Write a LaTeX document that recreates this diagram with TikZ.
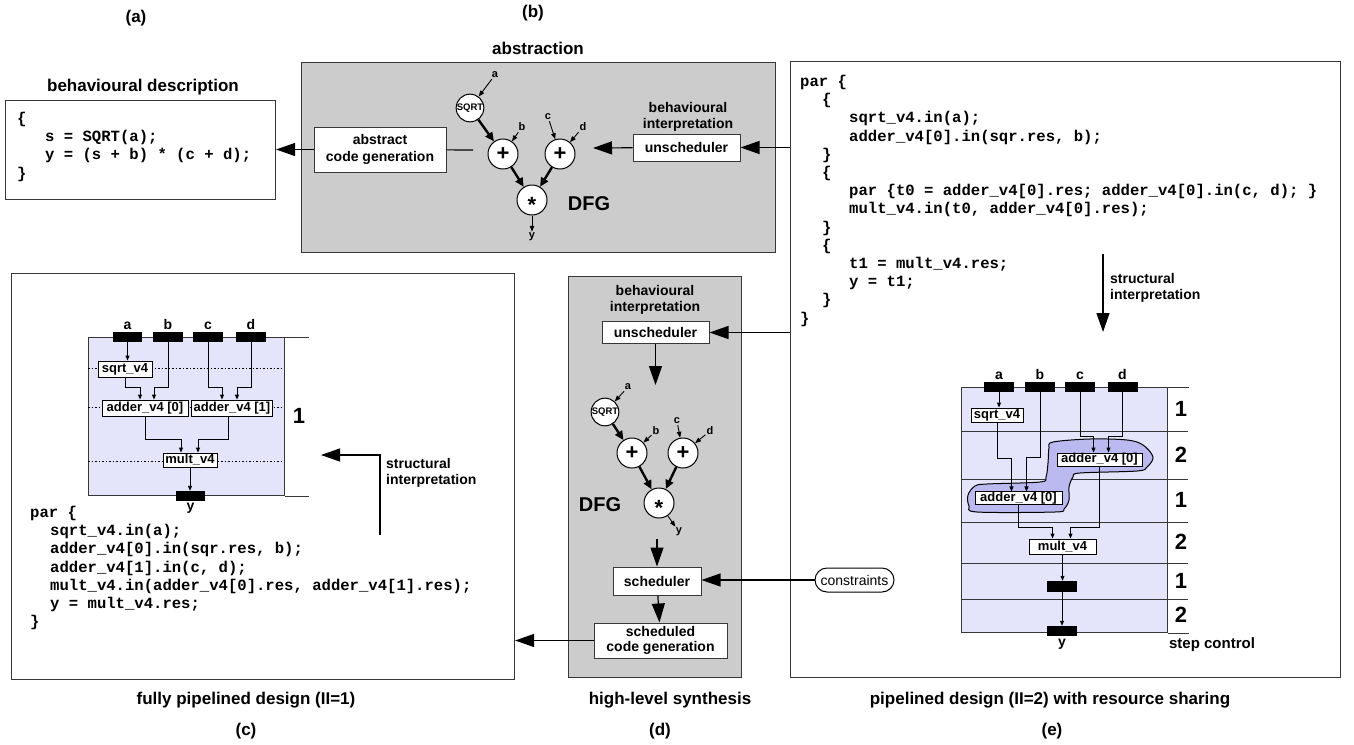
\documentclass[tikz,border=0pt]{standalone}
\usepackage{fontspec}
\setmainfont{Liberation Sans}
\setmonofont{Liberation Mono}
\usetikzlibrary{arrows.meta, positioning, shapes.misc}

\definecolor{panelgray}{RGB}{204,204,204}
\definecolor{datapath}{RGB}{228,228,250}
\definecolor{shared}{RGB}{186,186,240}
\definecolor{rim}{RGB}{55,55,55}

\tikzset{
  heading/.style={font=\bfseries\fontsize{17}{20}\selectfont, inner sep=0pt},
  panel/.style={draw=rim, line width=1.1pt, anchor=north west, inner sep=0pt},
  block/.style={draw=rim, fill=white, line width=1pt, align=center, inner sep=0pt,
    font=\bfseries\fontsize{14}{16.5}\selectfont},
  note/.style={align=left, inner sep=0pt, font=\bfseries\fontsize{14}{16}\selectfont},
  code/.style={align=left, anchor=north west, inner sep=0pt,
    font=\ttfamily\bfseries\fontsize{15.6}{18.2}\selectfont},
  op/.style={circle, draw=black, fill=white, line width=1pt, inner sep=0pt,
    minimum size=30, font=\bfseries\fontsize{22}{22}\selectfont},
  sqrtop/.style={op, minimum size=27, font=\bfseries\fontsize{9.5}{10}\selectfont},
  var/.style={inner sep=1pt, font=\bfseries\fontsize{11}{12}\selectfont},
  dfglbl/.style={inner sep=0pt, font=\bfseries\fontsize{20}{22}\selectfont},
  unit/.style={draw=black, fill=white, line width=0.9pt, inner sep=0pt,
    font=\bfseries\fontsize{13}{14}\selectfont},
  port/.style={fill=black, inner sep=0pt, minimum width=30, minimum height=10},
  portlbl/.style={inner sep=0pt, font=\bfseries\fontsize{14}{15}\selectfont},
  stepnum/.style={inner sep=0pt, font=\bfseries\fontsize{22}{22}\selectfont},
  flow/.style={line width=1.2pt, -{Triangle[length=19pt,width=13pt]}},
  feed/.style={line width=0.9pt, -{Triangle[length=6pt,width=4.5pt]}},
  dep/.style={line width=2.4pt, -{Triangle[length=9pt,width=8pt]}},
  wire/.style={line width=0.9pt, -{Triangle[length=5pt,width=4pt]}},
  rowline/.style={draw=rim, line width=1pt},
}

\begin{document}
\begin{tikzpicture}[x=1pt, y=-1pt]

  \path[use as bounding box, fill=white] (0,0) rectangle (1354,744);

  % Panels
  \node[panel, fill=white, minimum width=270, minimum height=99] (desc) at (5,100) {};
  \node[panel, fill=panelgray, minimum width=474, minimum height=190] (absbox) at (301,62) {};
  \node[panel, fill=white, minimum width=550, minimum height=616] (pipebox) at (790,61) {};
  \node[panel, fill=white, minimum width=503, minimum height=406] (fullbox) at (11,273) {};
  \node[panel, fill=panelgray, minimum width=173, minimum height=401] (hlsbox) at (568,276) {};

  % (a) behavioural description
  \node[heading] (la) at (136,18) {(a)};
  \node[heading] (ta) at (143,87) {behavioural description};
  \node[code] (descsrc) at (17,112) {\{\\
    \hspace*{28pt}s = SQRT(a);\\
    \hspace*{28pt}y = (s + b) * (c + d);\\
    \}};

  % (b) abstraction
  \node[heading] (lb) at (533,13) {(b)};
  \node[heading] (tb) at (538,48) {abstraction};
  \node[block, minimum width=132, minimum height=45] (acg) at (380,149.5) {abstract\\code generation};
  \node[block, minimum width=107, minimum height=27] (unschb) at (686.5,147.5) {unscheduler};
  \node[note, align=center] (bib) at (688,116.5) {behavioural\\interpretation};
  \coordinate (acgend) at (473,150);
  \coordinate (unschbend) at (593,148);

  \node[sqrtop] (sqrtb) at (470,108) {SQRT};
  \node[op] (addb1) at (503,154) {+};
  \node[op] (addb2) at (560,154) {+};
  \node[op] (mulb) at (532,200) {\raisebox{-0.58em}[0pt][0pt]{*}};
  \node[var] (vab) at (495,75) {a};
  \node[var] (vbb) at (522,127) {b};
  \node[var] (vcb) at (548,117) {c};
  \node[var] (vdb) at (583,127) {d};
  \node[var] (vyb) at (532,237) {y};
  \node[dfglbl] (dfgb) at (589,204) {DFG};

  \draw[feed] (vab) -- (sqrtb);
  \draw[feed] (vbb) -- (addb1);
  \draw[feed] (vcb) -- (addb2);
  \draw[feed] (vdb) -- (addb2);
  \draw[dep] (sqrtb) -- (addb1);
  \draw[dep] (addb1) -- (mulb);
  \draw[dep] (addb2) -- (mulb);
  \draw[feed] (mulb) -- (vyb);

  \draw[flow] (acg) -- (acg -| desc.east);
  \draw[line width=1.2pt] (acg) -- (acgend);
  \draw[flow] (unschb) -- (unschbend);
  \draw[flow] (unschb -| pipebox.west) -- (unschb);

  % (c) fully pipelined design
  \node[draw=rim, fill=datapath, line width=1pt, anchor=north west, inner sep=0pt,
    minimum width=196, minimum height=158] (dpc) at (88,337) {};
  \draw[rowline] (dpc.north east) -- ++(24,0);
  \draw[rowline] (dpc.south east) -- ++(24,0);
  \foreach \y in {368,407,461}
    \draw[line width=0.9pt, dash pattern=on 1.5pt off 2pt] (88,\y) -- (284,\y);

  \node[unit, minimum width=54, minimum height=16] (sqrtc) at (125,369) {sqrt\_v4};
  \node[unit, minimum width=86, minimum height=16] (add0c) at (145,408) {adder\_v4 [0]};
  \node[unit, minimum width=81, minimum height=16] (add1c) at (232,408) {adder\_v4 [1]};
  \node[unit, minimum width=54, minimum height=14] (multc) at (190,460) {mult\_v4};

  \node[port, minimum width=29] (pac) at (127.5,337) {};
  \node[port] (pbc) at (168,337) {};
  \node[port] (pcc) at (208,337) {};
  \node[port] (pdc) at (251,337) {};
  \node[port, minimum width=29] (pyc) at (190.5,496) {};
  \node[portlbl, above=2pt of pac] (lac) {a};
  \node[portlbl, above=2pt of pbc] (lbc) {b};
  \node[portlbl, above=2pt of pcc] (lcc) {c};
  \node[portlbl, above=2pt of pdc] (ldc) {d};
  \node[portlbl, below=2pt of pyc] (lyc) {y};
  \node[stepnum] (stc) at (299,416) {1};

  \draw[wire] (pac) -- (pac |- sqrtc.north);
  \draw[wire] (sqrtc.south) -- ++(0,10) -| ([xshift=-5pt]add0c.north);
  \draw[wire] (pbc.south) -- ++(0,45) -| ([xshift=9pt]add0c.north);
  \draw[wire] (pcc.south) -- ++(0,45) -| ([xshift=-10pt]add1c.north);
  \draw[wire] (pdc.south) -- ++(0,45) -| ([xshift=5pt]add1c.north);
  \draw[wire] (add0c.south) -- ++(0,23) -| ([xshift=-9pt]multc.north);
  \draw[wire] ([xshift=-4pt]add1c.south) -- ++(0,23) -| ([xshift=8pt]multc.north);
  \draw[wire] (multc.south) -- (multc.south |- pyc.north);

  \node[code] (fullsrc) at (30,506) {par \{\\
    \hspace*{20pt}sqrt\_v4.in(a);\\
    \hspace*{20pt}adder\_v4[0].in(sqr.res, b);\\
    \hspace*{20pt}adder\_v4[1].in(c, d);\\
    \hspace*{20pt}mult\_v4.in(adder\_v4[0].res, adder\_v4[1].res);\\
    \hspace*{20pt}y = mult\_v4.res;\\
    \}};

  \coordinate (sfoot) at (380,535);
  \coordinate (stip) at (321,455);
  \draw[flow] (sfoot) |- (stip);
  \node[note, anchor=north west] (snote) at (386,458) {structural\\interpretation};

  % (d) high-level synthesis
  \node[note, align=center] (bid) at (655,299.5) {behavioural\\interpretation};
  \node[block, minimum width=107, minimum height=22] (unschd) at (655.5,332.5) {unscheduler};
  \coordinate (dfgtop) at (655.5,385);
  \coordinate (dfgbot) at (657,539);
  \node[block, minimum width=88, minimum height=28] (sched) at (657,581) {scheduler};
  \node[block, minimum width=133, minimum height=35, font=\bfseries\fontsize{14}{15.5}\selectfont]
    (scg) at (660.5,640.5) {scheduled\\code generation};

  \node[sqrtop] (sqrtd) at (605,412) {SQRT};
  \node[op] (addd1) at (632,453) {+};
  \node[op] (addd2) at (683,453) {+};
  \node[op] (muld) at (659,503) {\raisebox{-0.58em}[0pt][0pt]{*}};
  \node[var] (vad) at (628,387) {a};
  \node[var] (vbd) at (656,431) {b};
  \node[var] (vcd) at (677,421) {c};
  \node[var] (vdd) at (710,431) {d};
  \node[var] (vyd) at (679,532) {y};
  \node[dfglbl] (dfgd) at (600,505) {DFG};

  \draw[feed] (vad) -- (sqrtd);
  \draw[feed] (vbd) -- (addd1);
  \draw[feed] (vcd) -- (addd2);
  \draw[feed] (vdd) -- (addd2);
  \draw[dep] (sqrtd) -- (addd1);
  \draw[dep] (addd1) -- (muld);
  \draw[dep] (addd2) -- (muld);
  \draw[feed] (muld) -- (vyd);

  \draw[flow] (unschd) -- (dfgtop);
  \draw[flow] (dfgbot) -- (sched);
  \draw[flow] (sched) -- (scg);
  \draw[flow] (unschd -| pipebox.west) -- (unschd);
  \draw[flow] (scg) -- (scg -| fullbox.east);

  \node[rounded rectangle, draw=black, line width=1pt, inner sep=0pt, minimum width=79,
    minimum height=24, font=\fontsize{14}{15}\selectfont] (cons) at (854.5,580) {constraints};
  \draw[flow] (cons) -- (cons -| sched.east);

  % (e) pipelined design with resource sharing
  \node[code] (pipesrc) at (800,75) {par \{\\
    \hspace*{22pt}\{\\
    \hspace*{49pt}sqrt\_v4.in(a);\\
    \hspace*{49pt}adder\_v4[0].in(sqr.res, b);\\
    \hspace*{22pt}\}\\
    \hspace*{22pt}\{\\
    \hspace*{49pt}par \{t0 = adder\_v4[0].res; adder\_v4[0].in(c, d); \}\\
    \hspace*{49pt}mult\_v4.in(t0, adder\_v4[0].res);\\
    \hspace*{22pt}\}\\
    \hspace*{22pt}\{\\
    \hspace*{49pt}t1 = mult\_v4.res;\\
    \hspace*{49pt}y = t1;\\
    \hspace*{22pt}\}\\
    \}};

  \coordinate (etop) at (1103,254);
  \coordinate (ebot) at (1103,332);
  \draw[flow] (etop) -- (ebot);
  \node[note, anchor=north west] (enote) at (1110,273) {structural\\interpretation};

  \node[draw=rim, fill=datapath, line width=1pt, anchor=north west, inner sep=0pt,
    minimum width=206, minimum height=245] (dpe) at (961,387) {};
  \foreach \y in {431,479,522,563,599}
    \draw[rowline] (961,\y) -- (1188,\y);
  \draw[rowline] (dpe.north east) -- ++(21,0);
  \draw[rowline] (dpe.south east) -- ++(21,0);
  \foreach \y/\s in {409/1, 455/2, 500/1, 542/2, 581/1, 615/2}
    \node[stepnum] (ste\y) at (1181,\y) {\s};
  \node[note] (stepctl) at (1212,645) {\fontsize{15}{16}\selectfont step control};

  % shared adder
  \draw[fill=shared, draw=black, line width=1pt] plot[smooth cycle, tension=0.55] coordinates {
    (1053,442) (1090,439) (1127,440) (1143,445) (1153,457) (1147,467) (1137,471)
    (1080,473) (1073,477) (1069,487) (1069,500) (1064,509) (1055,512) (977,512)
    (969,506) (968,495) (975,486) (987,484) (1040,482) (1046,477) (1048,463) (1049,448)};

  \node[unit, minimum width=52, minimum height=14] (sqrte) at (997,415) {sqrt\_v4};
  \node[unit, minimum width=85, minimum height=13] (addue) at (1099.5,459.5) {adder\_v4 [0]};
  \node[unit, minimum width=87, minimum height=12] (addle) at (1018.5,498) {adder\_v4 [0]};
  \node[unit, minimum width=67, minimum height=15] (multe) at (1062.5,546.5) {mult\_v4};

  \node[port] (pae) at (999,387) {};
  \node[port] (pbe) at (1040,387) {};
  \node[port] (pce) at (1080,387) {};
  \node[port] (pde) at (1122.5,387) {};
  \node[port, minimum height=11] (rege) at (1062,586.5) {};
  \node[port] (pye) at (1062,631) {};
  \node[portlbl, above=2pt of pae] (lae) {a};
  \node[portlbl, above=2pt of pbe] (lbe) {b};
  \node[portlbl, above=2pt of pce] (lce) {c};
  \node[portlbl, above=2pt of pde] (lde) {d};
  \node[portlbl, below=3pt of pye] (lye) {y};

  \draw[wire] (pae) -- (pae |- sqrte.north);
  \draw[wire] (sqrte.south) -- ++(0,36) -| ([xshift=-7pt]addle.north);
  \draw[wire] (pbe.south) -- ++(0,65) -| ([xshift=8pt]addle.north);
  \draw[wire] (pce.south) -- ++(0,44) -| ([xshift=-6pt]addue.north);
  \draw[wire] (pde.south) -- ++(0,44) -| ([xshift=9pt]addue.north);
  \draw[wire] (addle.south) -- ++(0,23) -| ([xshift=-10pt]multe.north);
  \draw[wire] (addue.south) -- ++(0,61) -| ([xshift=8pt]multe.north);
  \draw[wire] (multe.south) -- (multe.south |- rege.north);
  \draw[wire] (rege.south) -- (rege.south |- pye.north);

  % Captions
  \node[heading] (capc) at (246,700) {fully pipelined design (II=1)};
  \node[heading] (capd) at (670,700) {high-level synthesis};
  \node[heading] (cape) at (1050,700) {pipelined design (II=2) with resource sharing};
  \node[heading] (lc) at (246,731) {(c)};
  \node[heading] (ld) at (660,731) {(d)};
  \node[heading] (le) at (1052,731) {(e)};

\end{tikzpicture}
\end{document}
